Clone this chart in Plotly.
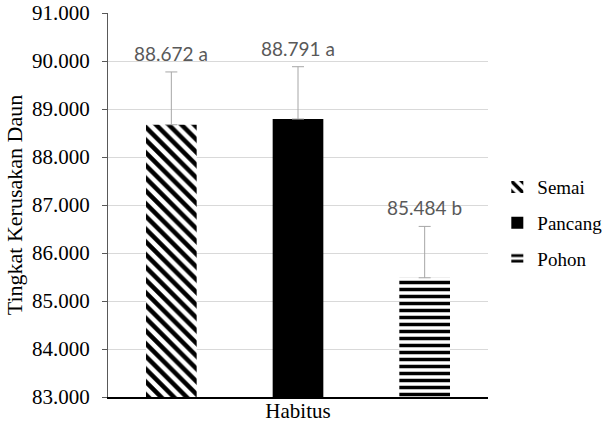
import plotly.graph_objects as go

series = ["Semai", "Pancang", "Pohon"]
values = [88.672, 88.791, 85.484]
errors = [1.10, 1.09, 1.07]
letters = ["a", "a", "b"]
x_label = "Habitus"
y_title = "Tingkat Kerusakan Daun"
y_ticks = [83, 84, 85, 86, 87, 88, 89, 90, 91]

SERIF = "Liberation Serif"

patterns = [
    dict(shape="\\", fgcolor="black", bgcolor="white", size=9, solidity=0.5, fgopacity=1),
    dict(shape="", fgcolor="black", bgcolor="black"),
    dict(shape="-", fgcolor="black", bgcolor="white", size=7, solidity=0.5, fgopacity=1),
]
fills = ["white", "black", "white"]

fig = go.Figure()
for i, name in enumerate(series):
    fig.add_trace(go.Bar(
        x=[i], y=[values[i]], width=0.4, name=name, opacity=1,
        legendgroup=name,
        marker=dict(color=fills[i], pattern=patterns[i], line=dict(width=0)),
        error_y=dict(type="data", array=[errors[i]], arrayminus=[0], symmetric=False,
                     color="#a6a6a6", thickness=1, width=6),
    ))
    fig.add_annotation(x=i, y=values[i] + errors[i], text=f"{values[i]:.3f} {letters[i]}",
                       showarrow=False, yanchor="bottom", yshift=5,
                       font=dict(family="Lato", size=19, color="#595959"))

fig.update_layout(
    template="none",
    width=605, height=425,
    margin=dict(l=108, r=117, t=13, b=28, autoexpand=False),
    paper_bgcolor="white", plot_bgcolor="white",
    barmode="overlay",
    showlegend=True,
    legend=dict(xref="container", yref="container", x=0.822, y=0.475,
                yanchor="middle", xanchor="left",
                font=dict(family=SERIF, size=19, color="black"),
                tracegroupgap=8, itemwidth=30),
    font=dict(family=SERIF, color="black"),
)
fig.update_yaxes(range=[83, 91], tickvals=y_ticks, tickformat=".3f",
                 automargin=False,
                 showgrid=True, gridcolor="#d9d9d9", gridwidth=1,
                 showline=True, linecolor="#595959", linewidth=1,
                 ticks="outside", ticklen=5, tickcolor="#595959",
                 ticklabelstandoff=8,
                 tickfont=dict(family=SERIF, size=21, color="black"),
                 title=dict(text=y_title, font=dict(family=SERIF, size=22, color="black"),
                            standoff=3),
                 zeroline=False)
fig.update_xaxes(range=[-0.5, 2.5], tickvals=[1], ticktext=[x_label],
                 automargin=False,
                 showline=True, linecolor="black", linewidth=2, ticks="", ticklen=0,
                 ticklabelstandoff=-6,
                 tickfont=dict(family=SERIF, size=21, color="black"),
                 showgrid=False, zeroline=False)

fig.write_html("out.html")
